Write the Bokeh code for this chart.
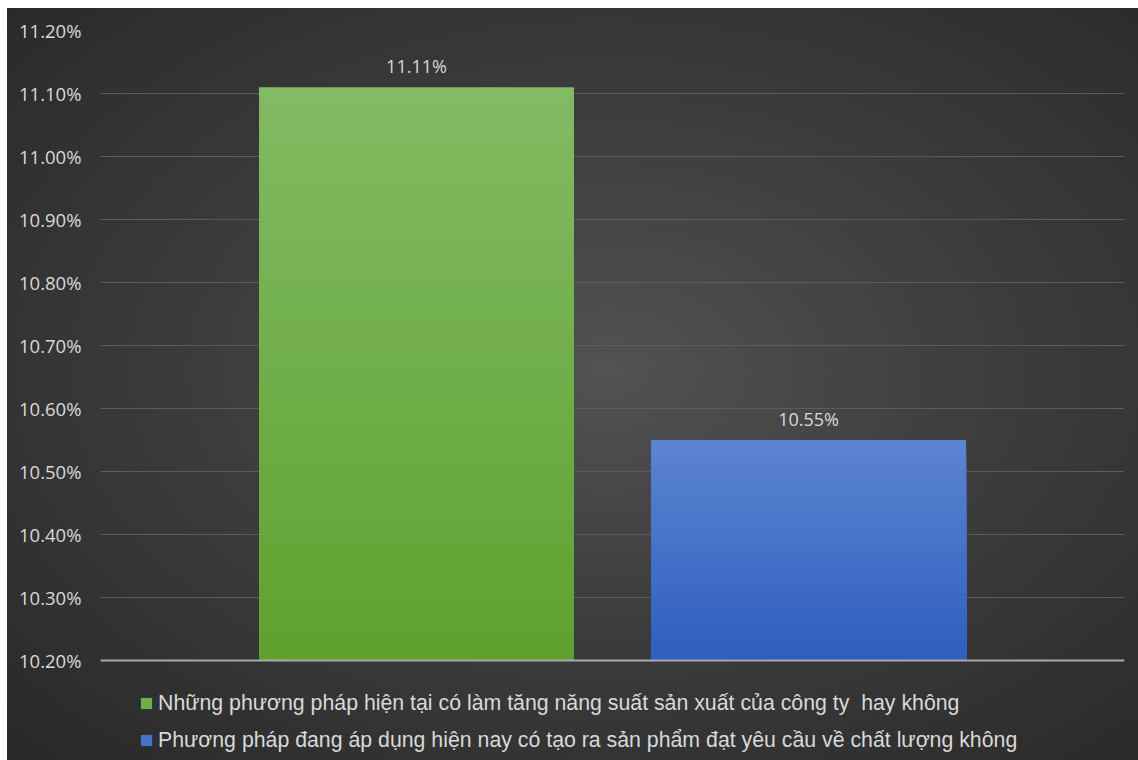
from bokeh.plotting import figure
from bokeh.models import (Range1d, FixedTicker, PrintfTickFormatter, Legend, LegendItem,
                          LabelSet, ColumnDataSource, Span, InlineStyleSheet)
from bokeh.core.properties import value
from bokeh.embed import file_html
from bokeh.resources import INLINE

# ---- data ----
series = [
    "Những phương pháp hiện tại có làm tăng năng suất sản xuất của công ty  hay không",
    "Phương pháp đang áp dụng hiện nay có tạo ra sản phẩm đạt yêu cầu về chất lượng không",
]
values = [11.11, 10.55]
value_labels = ["11.11%", "10.55%"]
y_ticks = [10.2, 10.3, 10.4, 10.5, 10.6, 10.7, 10.8, 10.9, 11.0, 11.1, 11.2]
y_min, y_max = 10.2, 11.2

# ---- style / layout ----
top_colors = [(0x82, 0xbb, 0x64), (0x5c, 0x84, 0xd1)]
bottom_colors = [(0x5f, 0xa1, 0x2f), (0x2e, 0x5e, 0xbf)]
bar_centers = [0.3086, 0.6915]
bar_width = 0.3076
FONT = "Open Sans"
TXT = "#d9d9d9"

W, H = 1131, 752
border_left, border_right, border_top = 93, 14, 22
px_per_unit = 630 / (y_max - y_min)          # plot area height for the 11 gridlines
legend_room = 100                             # space under the baseline for the legend
y_start = y_min - legend_room / px_per_unit

p = figure(width=W, height=H, output_backend="svg", toolbar_location=None,
           x_range=Range1d(0, 1), y_range=Range1d(y_start, y_max))
p.stylesheets = [InlineStyleSheet(css=":host { margin: 8px 0 0 7px; background: radial-gradient(ellipse farthest-corner at 53% 48%, #525252 0%, #3d3d3d 45%, #282828 100%); }")]
p.background_fill_color = None
p.border_fill_color = None
p.outline_line_color = None
p.min_border_left = border_left
p.min_border_right = border_right
p.min_border_top = border_top
p.min_border_bottom = 0

p.xaxis.visible = False
p.xgrid.visible = False
p.ygrid.ticker = FixedTicker(ticks=y_ticks)
p.ygrid.grid_line_color = "#5c5c5c"
p.ygrid.grid_line_width = 1

ax = p.yaxis[0]
ax.ticker = FixedTicker(ticks=y_ticks)
ax.formatter = PrintfTickFormatter(format="%.2f%%")
ax.axis_line_color = None
ax.major_tick_line_color = None
ax.minor_tick_line_color = None
ax.major_label_text_color = TXT
ax.major_label_text_font = FONT
ax.major_label_text_font_size = "18.5px"
ax.major_label_standoff = 13

# gradient bars: overlapping layers from the baseline, tallest (lightest) first
n = 60
items = []
for i, v in enumerate(values):
    lefts, rights, bots, tops, cols = [], [], [], [], []
    for k in range(n):
        frac = (n - k) / n
        f = (n - k - 0.5) / n
        c = tuple(int(round(bottom_colors[i][j] + (top_colors[i][j] - bottom_colors[i][j]) * f)) for j in range(3))
        lefts.append(bar_centers[i] - bar_width / 2)
        rights.append(bar_centers[i] + bar_width / 2)
        bots.append(y_min)
        tops.append(y_min + (v - y_min) * frac)
        cols.append("#%02x%02x%02x" % c)
    src = ColumnDataSource(dict(left=lefts, right=rights, bottom=bots, top=tops, color=cols))
    r = p.quad(left="left", right="right", bottom="bottom", top="top", fill_color="color",
               line_color=None, source=src)
    items.append(LegendItem(label=series[i], renderers=[r], index=n // 2))

base = Span(location=y_min, dimension="width", line_color="#a8a8a8", line_width=2)
p.add_layout(base)

lab_src = ColumnDataSource(dict(x=bar_centers, y=values, text=value_labels))
labels = LabelSet(x="x", y="y", text="text", source=lab_src, text_align="center",
                  text_baseline="bottom", y_offset=9, text_color=TXT,
                  text_font=value(FONT), text_font_size="18px")
p.add_layout(labels)

legend = Legend(items=items, location=(39, 7.5), orientation="vertical")
legend.background_fill_alpha = 0
legend.border_line_alpha = 0
legend.label_text_color = TXT
legend.label_text_font = "Liberation Sans"
legend.label_text_font_size = "21.3px"
legend.label_height = 25
legend.glyph_width = 14
legend.glyph_height = 14
legend.label_standoff = 5
legend.spacing = 12
legend.padding = 0
legend.margin = 0
p.add_layout(legend)

open("out.html", "w").write(file_html(p, INLINE))
